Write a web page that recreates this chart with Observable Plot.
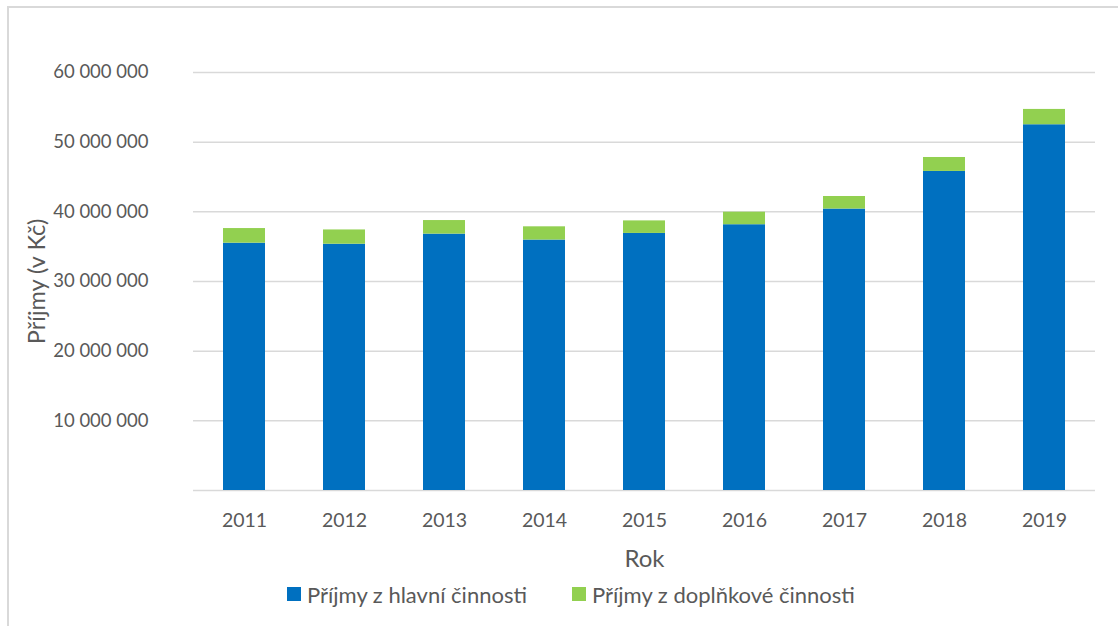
<!DOCTYPE html>
<html>
<head>
<meta charset="utf-8">
<script src="https://cdn.jsdelivr.net/npm/d3@7"></script>
<script src="https://cdn.jsdelivr.net/npm/@observablehq/plot@0.6"></script>
<style>
  html, body { margin: 0; padding: 0; background: #fff; }
  #wrap { position: relative; width: 1118px; height: 626px; overflow: hidden; font-family: Lato, "Open Sans", sans-serif; color: #595959; }
  #frame { position: absolute; left: 7px; top: 6px; width: 1200px; height: 700px; border: 2px solid #d9d9d9; box-sizing: border-box; }
  #chart { position: absolute; left: 0; top: 0; }
  #legend { position: absolute; left: 287px; top: 580px; height: 28px; display: flex; align-items: center; font-size: 22px; white-space: nowrap; }
  .item { display: flex; align-items: center; margin-right: 45px; }
  .sw { width: 14px; height: 14px; margin-right: 6px; }
</style>
</head>
<body>
<div id="wrap">
  <div id="frame"></div>
  <div id="chart"></div>
  <div id="legend"></div>
</div>
<script>
const years = ["2011","2012","2013","2014","2015","2016","2017","2018","2019"];
const mainIncome = [35500000, 35350000, 36800000, 35950000, 36900000, 38150000, 40400000, 45800000, 52500000];
const sideIncome = [2100000, 2050000, 1950000, 1900000, 1800000, 1800000, 1800000, 2000000, 2200000];
const seriesNames = ["Příjmy z hlavní činnosti", "Příjmy z doplňkové činnosti"];
const seriesColors = ["#0070C0", "#92D050"];
const yTicks = [10000000, 20000000, 30000000, 40000000, 50000000, 60000000];
const gridTicks = [0, 10000000, 20000000, 30000000, 40000000, 50000000, 60000000];
const yLabel = "Příjmy (v Kč)";
const xLabel = "Rok";

const rows = [];
years.forEach((y, i) => {
  rows.push({year: y, series: seriesNames[0], value: mainIncome[i]});
  rows.push({year: y, series: seriesNames[1], value: sideIncome[i]});
});

const fmt = v => d3.format(",")(v).replace(/,/g, " ");

const chart = Plot.plot({
  width: 1118,
  height: 575,
  marginLeft: 193,
  marginRight: 23,
  marginTop: 72,
  marginBottom: 85,
  style: {fontFamily: "Lato, 'Open Sans', sans-serif", fontSize: "19px", color: "#595959", background: "transparent"},
  x: {domain: years, paddingInner: 0.58, paddingOuter: 0.29, label: null},
  y: {domain: [0, 60000000], label: null},
  color: {domain: seriesNames, range: seriesColors},
  marks: [
    Plot.ruleY(gridTicks, {stroke: "#d9d9d9", strokeWidth: 1.5}),
    Plot.barY(rows, Plot.stackY({x: "year", y: "value", fill: "series", order: seriesNames})),
    Plot.axisY(yTicks, {tickSize: 0, tickPadding: 45, tickFormat: fmt, fill: "#595959", fontSize: 18.5, label: null}),
    Plot.axisX({tickSize: 0, tickPadding: 23, fill: "#595959", fontSize: 19.5, label: null}),
    Plot.text([yLabel], {frameAnchor: "left", dx: -156, rotate: -90, fill: "#595959", fontSize: 23.5, textAnchor: "middle", lineAnchor: "middle"}),
    Plot.text([xLabel], {frameAnchor: "bottom", dy: 69, fill: "#595959", fontSize: 24, textAnchor: "middle", lineAnchor: "middle"})
  ]
});
document.getElementById("chart").appendChild(chart);

const legend = document.getElementById("legend");
seriesNames.forEach((name, i) => {
  const item = document.createElement("div");
  item.className = "item";
  const sw = document.createElement("div");
  sw.className = "sw";
  sw.style.background = seriesColors[i];
  const t = document.createElement("span");
  t.textContent = name;
  item.appendChild(sw);
  item.appendChild(t);
  legend.appendChild(item);
});
</script>
</body>
</html>
